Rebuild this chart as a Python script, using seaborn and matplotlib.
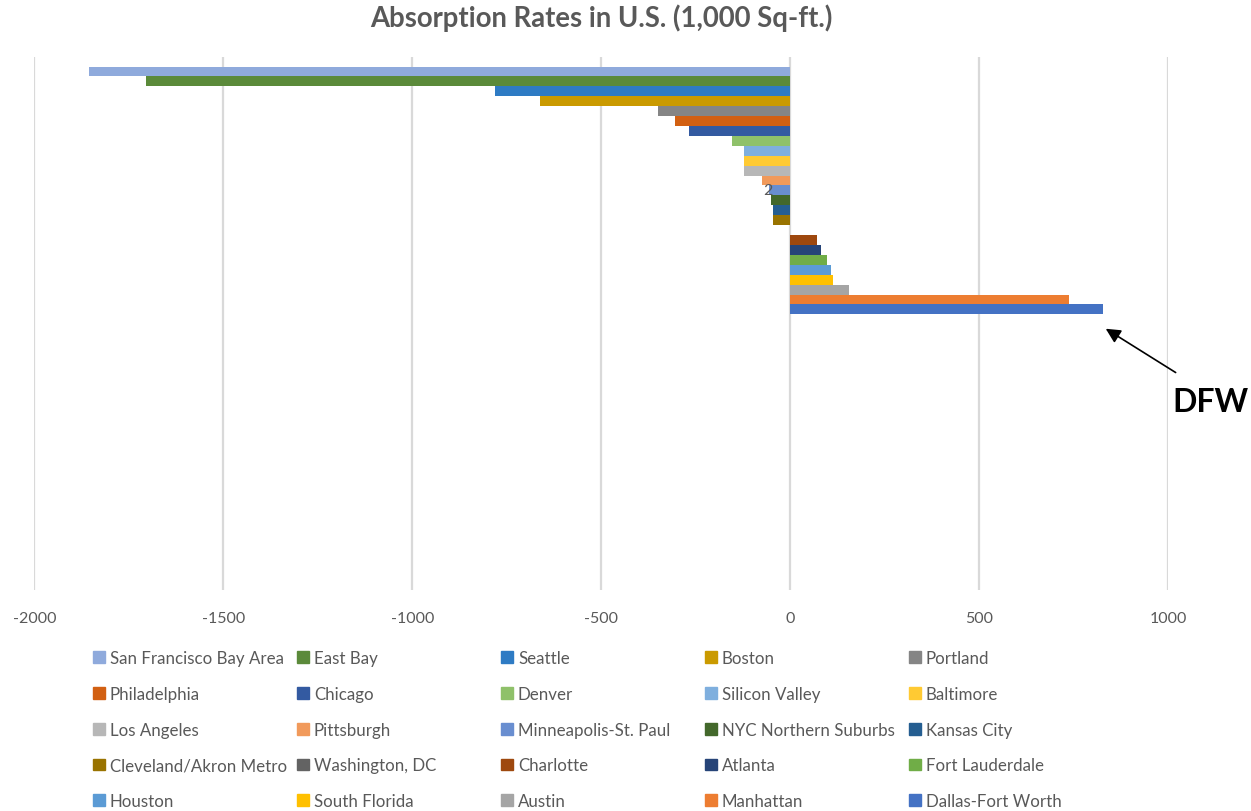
import matplotlib.pyplot as plt
import matplotlib.patches as mpatches
import seaborn as sns
import pandas as pd

# === Datos ===
ciudades = ["San Francisco Bay Area", "East Bay", "Seattle", "Boston", "Portland",
            "Philadelphia", "Chicago", "Denver", "Silicon Valley", "Baltimore",
            "Los Angeles", "Pittsburgh", "Minneapolis-St. Paul", "NYC Northern Suburbs", "Kansas City",
            "Cleveland/Akron Metro", "Washington, DC", "Charlotte", "Atlanta", "Fort Lauderdale",
            "Houston", "South Florida", "Austin", "Manhattan", "Dallas-Fort Worth"]
absorcion = [-1855, -1704, -780, -661, -349,
             -304, -267, -153, -122, -122,
             -122, -74, -55, -50, -45,
             -45, 0, 72, 83, 98,
             108, 114, 156, 738, 828]
colores = ["#8FAADC", "#5B8A3A", "#2E7BC4", "#CA9A00", "#858585",
           "#D26012", "#335AA1", "#8FC16A", "#7FAFDE", "#FFCA33",
           "#B7B7B7", "#F19A5B", "#698ED0", "#43682B", "#255E91",
           "#997300", "#636363", "#9E480E", "#264478", "#70AD47",
           "#5B9BD5", "#FFC000", "#A5A5A5", "#ED7D31", "#4472C4"]
ticks_x = [-2000, -1500, -1000, -500, 0, 500, 1000]

df = pd.DataFrame({"ciudad": ciudades, "absorcion": absorcion})

sns.set_style("white")
plt.rcParams["font.family"] = ["Lato", "DejaVu Sans"]
gris = "#595959"

fig = plt.figure(figsize=(12.51, 8.12), dpi=100)
ax = fig.add_axes([34.3 / 1251, 1 - 591 / 812, (1168 - 34.3) / 1251, 533 / 812])

sns.barplot(data=df, x="absorcion", y="ciudad", hue="ciudad", palette=colores,
            orient="h", width=1.0, saturation=1, legend=False, ax=ax,
            linewidth=0, edgecolor="none")

ax.set_xlim(-2000, 1000)
ax.set_ylim(52.3, -1.46)
ax.set_xticks(ticks_x)
ax.set_xticklabels([str(t) for t in ticks_x], fontsize=11.5, color=gris)
ax.tick_params(axis="x", length=0, pad=15)
ax.set_yticks([])
ax.set_xlabel("")
ax.set_ylabel("")
for s in ax.spines.values():
    s.set_visible(False)
ax.grid(axis="x", color="#D9D9D9", lw=1.6)
ax.set_axisbelow(True)

# Etiqueta suelta
ax.text(-60, 12, "2", color=gris, fontsize=11.5, ha="center", va="center")

# Título
fig.text(601 / 1251, 1 - 18 / 812, "Absorption Rates in U.S. (1,000 Sq-ft.)",
         ha="center", va="center", fontsize=19.8, fontweight="bold", color=gris)

# Flecha DFW
ax.annotate("", xy=(829, 25.8), xycoords="data",
            xytext=(1178, 812 - 375), textcoords="figure pixels",
            arrowprops=dict(arrowstyle="-|>", color="black", lw=1.2, mutation_scale=22))
fig.text(1210 / 1251, 1 - 403 / 812, "DFW", ha="center", va="center",
         fontsize=23, fontweight="bold", color="black")

# Leyenda (5 columnas, orden por filas)
col_x = [101, 305, 509, 713, 917]
for c in range(5):
    handles = [mpatches.Patch(color=colores[r * 5 + c], label=ciudades[r * 5 + c]) for r in range(5)]
    fig.legend(handles=handles, loc="upper left",
               bbox_to_anchor=((col_x[c] - 8) / 1251, 1 - 651 / 812),
               frameon=False, fontsize=12.2, labelcolor=gris,
               handlelength=0.7, handleheight=0.7, handletextpad=0.3,
               labelspacing=1.17, borderaxespad=0, borderpad=0)

fig.savefig("out.png", dpi=100)
